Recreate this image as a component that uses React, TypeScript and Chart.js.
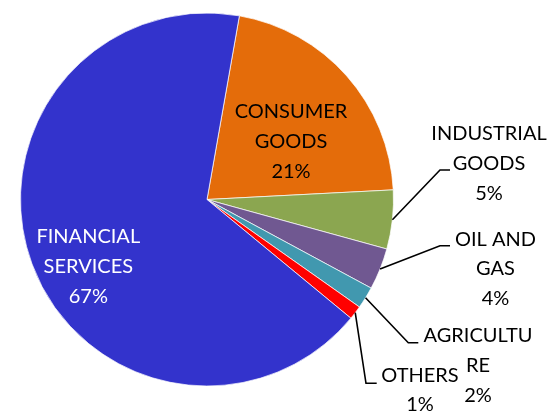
import React, { useEffect, useRef } from "react";
import { Chart, registerables } from "chart.js";

Chart.register(...registerables);

// ---- data ----
const categories = ["CONSUMER GOODS", "INDUSTRIAL GOODS", "OIL AND GAS", "AGRICULTURE", "OTHERS", "FINANCIAL SERVICES"];
const values = [21.4, 5.1, 3.6, 1.9, 1.2, 66.8];
const labelLines = [
  ["CONSUMER", "GOODS"],
  ["INDUSTRIAL", "GOODS"],
  ["OIL AND", "GAS"],
  ["AGRICULTU", "RE"],
  ["OTHERS"],
  ["FINANCIAL", "SERVICES"],
];

// ---- style ----
const colors = ["#E46C0A", "#8BA650", "#705891", "#4198AF", "#FF0000", "#3333CC"];
const textColors = ["#000000", "#000000", "#000000", "#000000", "#000000", "#FFFFFF"];
// label centre offsets from pie centre, and leader elbow/end offsets (null = inside label)
const labelOffsets = [
  [84, -57.8],
  [282, -36],
  [288.5, 69.5],
  [271, 166],
  [213, 190.6],
  [-118.7, 67.3],
];
const leaders: (number[][] | null)[] = [
  null,
  [[233, -29.5], [243, -29.5]],
  [[233, 46.2], [243, 46.2]],
  [[201.3, 143.2], [211.3, 143.2]],
  [[159, 183.8], [169.7, 183.8]],
  null,
];
const FONT = "20px Lato, 'Open Sans', sans-serif";
const LINE_H = 29.8;

const labelPlugin = {
  id: "pieLabels",
  afterDatasetsDraw(chart: any) {
    const ctx = chart.ctx;
    const meta = chart.getDatasetMeta(0);
    const total = values.reduce((a, b) => a + b, 0);
    ctx.save();
    meta.data.forEach((arc: any, i: number) => {
      const p = arc.getProps(["x", "y", "startAngle", "endAngle", "outerRadius"], true);
      const cx = p.x, cy = p.y;
      const lead = leaders[i];
      if (lead) {
        const mid = (p.startAngle + p.endAngle) / 2;
        const sx = cx + Math.cos(mid) * p.outerRadius;
        const sy = cy + Math.sin(mid) * p.outerRadius;
        ctx.beginPath();
        ctx.moveTo(sx, sy);
        ctx.lineTo(cx + lead[0][0], cy + lead[0][1]);
        ctx.lineTo(cx + lead[1][0], cy + lead[1][1]);
        ctx.strokeStyle = "#000000";
        ctx.lineWidth = 1.6;
        ctx.stroke();
      }
      const pct = Math.round((values[i] / total) * 100) + "%";
      const lines = [...labelLines[i], pct];
      const lx = cx + labelOffsets[i][0];
      const ly = cy + labelOffsets[i][1];
      ctx.font = FONT;
      ctx.fillStyle = textColors[i];
      ctx.textAlign = "center";
      ctx.textBaseline = "middle";
      const n = lines.length;
      lines.forEach((t, k) => {
        ctx.fillText(t, lx, ly + (k - (n - 1) / 2) * LINE_H);
      });
    });
    ctx.restore();
  },
};

export default function App() {
  const ref = useRef<HTMLCanvasElement>(null);
  useEffect(() => {
    if (!ref.current) return;
    const chart = new Chart(ref.current, {
      type: "pie",
      data: {
        labels: categories,
        datasets: [
          {
            data: values,
            backgroundColor: colors,
            borderColor: "rgba(255,255,255,0.7)",
            borderWidth: 1,
          },
        ],
      },
      options: {
        responsive: false,
        animation: false,
        devicePixelRatio: 1,
        rotation: 10,
        layout: { padding: { top: 12, bottom: 27, left: 20, right: 156 } },
        plugins: { legend: { display: false }, tooltip: { enabled: false } },
      },
      plugins: [labelPlugin],
    });
    return () => chart.destroy();
  }, []);
  return (
    <div style={{ position: "absolute", left: 0, top: 0, width: 550, height: 414, background: "#fff" }}>
      <canvas ref={ref} width={550} height={414} style={{ display: "block" }} />
    </div>
  );
}
